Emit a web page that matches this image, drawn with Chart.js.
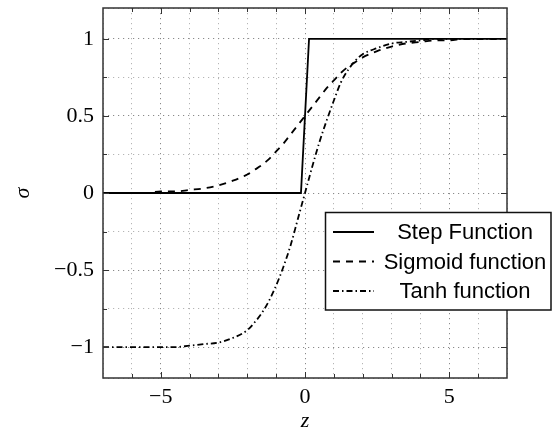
<!DOCTYPE html>
<html>
<head>
<meta charset="utf-8">
<script src="https://cdn.jsdelivr.net/npm/chart.js@4"></script>
<style>
  html, body { margin: 0; padding: 0; background: #fff; }
  #wrap { width: 552px; height: 431px; }
</style>
</head>
<body>
<div id="wrap"><canvas id="c"></canvas></div>
<script>
// Values.
const zs = [-7, -6.5, -6, -5.5, -5, -4.5, -4, -3.5, -3, -2.5, -2, -1.75, -1.5, -1.25, -1, -0.75, -0.5, -0.25,
  0, 0.25, 0.5, 0.75, 1, 1.25, 1.5, 1.75, 2, 2.5, 3, 3.5, 4, 4.5, 5, 5.5, 6, 6.5, 7];
const sigmoidVals = [0, 0, 0, 0, 0.01, 0.01, 0.02, 0.03, 0.05, 0.08, 0.12, 0.15, 0.18, 0.22, 0.27, 0.32, 0.38, 0.44,
  0.5, 0.56, 0.62, 0.68, 0.73, 0.78, 0.82, 0.85, 0.88, 0.92, 0.95, 0.97, 0.98, 0.99, 0.99, 1, 1, 1, 1];
const tanhVals = [-1, -1, -1, -1, -1, -1, -0.99, -0.98, -0.97, -0.94, -0.89, -0.84, -0.78, -0.7, -0.6, -0.48, -0.34, -0.17,
  0, 0.17, 0.33, 0.47, 0.6, 0.72, 0.8, 0.86, 0.9, 0.94, 0.97, 0.98, 0.99, 1, 1, 1, 1, 1, 1];
const stepZs = [-7, -0.14, 0.14, 7];
const stepVals = [0, 0, 1, 1];
const xLabelled = [-5, 0, 5];
const yLabelled = [-1, -0.5, 0, 0.5, 1];
const seriesNames = ["Step Function", "Sigmoid function", "Tanh function"];

const INK = "#000";
const DASH = { step: [], sigmoid: [7, 6], tanh: [6, 3, 1.5, 3] };
const SERIF = "'Liberation Serif', 'DejaVu Serif', serif";
const SANS = "'Liberation Sans', Arial, sans-serif";

const pts = (xs, ys) => xs.map((x, i) => ({ x, y: ys[i] }));
const fmt = (v) => (v < 0 ? "\u2212" + String(-v) : String(v));
const near = (v, list) => list.some((t) => Math.abs(t - v) < 1e-6);

const line = (label, data, dash, extra) => Object.assign({
  label, data, borderColor: INK, borderWidth: 1.8, borderDash: dash,
  pointRadius: 0, fill: false, cubicInterpolationMode: "monotone",
}, extra || {});

// frame with inward tick marks on all four sides, like pgfplots
const framePlugin = {
  id: "frame",
  afterDatasetsDraw(chart) {
    const { ctx, chartArea: a, scales } = chart;
    ctx.save();
    ctx.strokeStyle = "#333";
    ctx.lineWidth = 1;
    ctx.beginPath();
    scales.x.ticks.forEach((t) => {
      if (t.value <= -7 || t.value >= 7) return;
      const x = Math.round(scales.x.getPixelForValue(t.value)) + 0.5;
      const len = near(t.value, xLabelled) ? 6 : 4;
      ctx.moveTo(x, a.bottom); ctx.lineTo(x, a.bottom - len);
      ctx.moveTo(x, a.top); ctx.lineTo(x, a.top + len);
    });
    scales.y.ticks.forEach((t) => {
      if (t.value <= -1.2 || t.value >= 1.2) return;
      const y = Math.round(scales.y.getPixelForValue(t.value)) + 0.5;
      const len = near(t.value, yLabelled) ? 6 : 4;
      ctx.moveTo(a.left, y); ctx.lineTo(a.left + len, y);
      ctx.moveTo(a.right, y); ctx.lineTo(a.right - len, y);
    });
    ctx.stroke();
    ctx.lineWidth = 1.5;
    ctx.strokeRect(a.left, a.top, a.right - a.left, a.bottom - a.top);
    ctx.restore();
  },
};

// legend box inside the plot, reaching past its right edge
const legendPlugin = {
  id: "boxLegend",
  afterDraw(chart) {
    const { ctx } = chart;
    const box = { l: 325.5, t: 212.5, r: 551, b: 310 };
    ctx.save();
    ctx.fillStyle = "#fff";
    ctx.fillRect(box.l, box.t, box.r - box.l, box.b - box.t);
    ctx.strokeStyle = "#111";
    ctx.lineWidth = 1.5;
    ctx.strokeRect(box.l, box.t, box.r - box.l, box.b - box.t);
    const dashes = [DASH.step, DASH.sigmoid, DASH.tanh];
    ctx.font = "22px " + SANS;
    ctx.textAlign = "center";
    ctx.textBaseline = "middle";
    seriesNames.forEach((name, i) => {
      const y = 232 + i * 29.5;
      ctx.beginPath();
      ctx.setLineDash(dashes[i]);
      ctx.lineWidth = 1.8;
      ctx.strokeStyle = INK;
      ctx.moveTo(333, y); ctx.lineTo(374, y);
      ctx.stroke();
      ctx.setLineDash([]);
      ctx.fillStyle = "#000";
      ctx.fillText(name, 465, y + 1);
    });
    ctx.restore();
  },
};

new Chart(document.getElementById("c"), {
  type: "line",
  data: {
    datasets: [
      line(seriesNames[0], pts(stepZs, stepVals), DASH.step, { cubicInterpolationMode: "default", tension: 0 }),
      line(seriesNames[1], pts(zs, sigmoidVals), DASH.sigmoid),
      line(seriesNames[2], pts(zs, tanhVals), DASH.tanh),
    ],
  },
  options: {
    responsive: true, maintainAspectRatio: false, animation: false,
    layout: { padding: { top: 8, right: 45, left: 0, bottom: 0 } },
    plugins: { legend: { display: false }, tooltip: { enabled: false } },
    scales: {
      x: {
        type: "linear", min: -7, max: 7,
        afterFit(s) { s.height = 53; s.paddingLeft = 0; s.paddingRight = 0; },
        border: { display: false, dash: [1.2, 3.8] },
        grid: {
          drawTicks: false,
          color: (c) => (near(c.tick.value, xLabelled) ? "#8a8a8a" : "#b5b5b5"),
        },
        ticks: {
          stepSize: 1, padding: 6, color: "#000", maxRotation: 0, autoSkip: false,
          font: { family: SERIF, size: 22 },
          callback: (v) => (near(v, xLabelled) ? fmt(v) : ""),
        },
        title: {
          display: true, text: "z", color: "#000", padding: 0,
          font: { family: SERIF, size: 22, style: "italic", lineHeight: 0.85 },
        },
      },
      y: {
        min: -1.2, max: 1.2,
        afterFit(s) { s.width = 103; s.paddingTop = 0; s.paddingBottom = 0; },
        border: { display: false, dash: [1.2, 3.8] },
        grid: {
          drawTicks: false,
          color: (c) => (near(c.tick.value, yLabelled) ? "#8a8a8a" : "#b5b5b5"),
        },
        ticks: {
          stepSize: 0.25, padding: 9, color: "#000", autoSkip: false,
          font: { family: SERIF, size: 22 },
          callback: (v) => (near(v, yLabelled) ? fmt(v) : ""),
        },
        title: {
          display: true, text: "\u03c3", color: "#000", padding: { top: 10, bottom: 0 },
          font: { family: SERIF, size: 22, style: "italic", lineHeight: 1.2 },
        },
      },
    },
  },
  plugins: [framePlugin, legendPlugin],
});
</script>
</body>
</html>
